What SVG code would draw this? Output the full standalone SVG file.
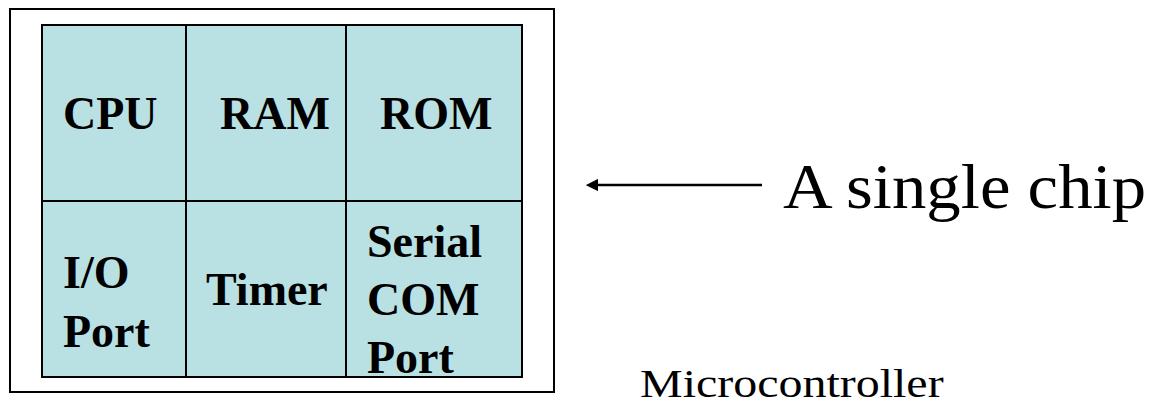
<svg xmlns="http://www.w3.org/2000/svg" width="1155" height="410" viewBox="0 0 1155 410">
<style>
.cell{fill:#b9e0e3;stroke:#000;stroke-width:2}
.lbl{font-family:"Liberation Serif","Times New Roman",serif;font-weight:bold;font-size:46px;fill:#000}
.txt{font-family:"Liberation Serif","Times New Roman",serif;fill:#000}
</style>
<defs>
<marker id="ah" viewBox="0 0 10 10" refX="1" refY="5" markerWidth="5" markerHeight="5" orient="auto-start-reverse" markerUnits="strokeWidth">
<path d="M0,0 L10,5 L0,10 z" fill="#000"/>
</marker>
</defs>
<rect id="chip" x="10" y="9" width="544" height="383" fill="#fff" stroke="#000" stroke-width="2"/>
<g id="cpu"><rect class="cell" x="42" y="25" width="144" height="176"/><text class="lbl" x="63" y="129">CPU</text></g>
<g id="ram"><rect class="cell" x="186" y="25" width="160" height="176"/><text class="lbl" x="220" y="129">RAM</text></g>
<g id="rom"><rect class="cell" x="346" y="25" width="176" height="176"/><text class="lbl" x="380" y="129">ROM</text></g>
<g id="io"><rect class="cell" x="42" y="201" width="144" height="176"/><text class="lbl" x="63" y="288">I/O</text><text class="lbl" x="63" y="347">Port</text></g>
<g id="timer"><rect class="cell" x="186" y="201" width="160" height="176"/><text class="lbl" x="206" y="305">Timer</text></g>
<g id="serial"><rect class="cell" x="346" y="201" width="176" height="176"/><text class="lbl" x="367" y="257">Serial</text><text class="lbl" x="367" y="315">COM</text><text class="lbl" x="367" y="373">Port</text></g>
<g id="connectors"><line x1="762" y1="185" x2="597" y2="185" stroke="#000" stroke-width="2.5" marker-end="url(#ah)"/></g>
<g id="label-chip"><text class="txt" font-size="64" transform="translate(783,208) scale(1.075,1)">A single chip</text></g>
<g id="label-mc"><text class="txt" font-size="41" transform="translate(640,397) scale(1.17,1)">Microcontroller</text></g>
</svg>
